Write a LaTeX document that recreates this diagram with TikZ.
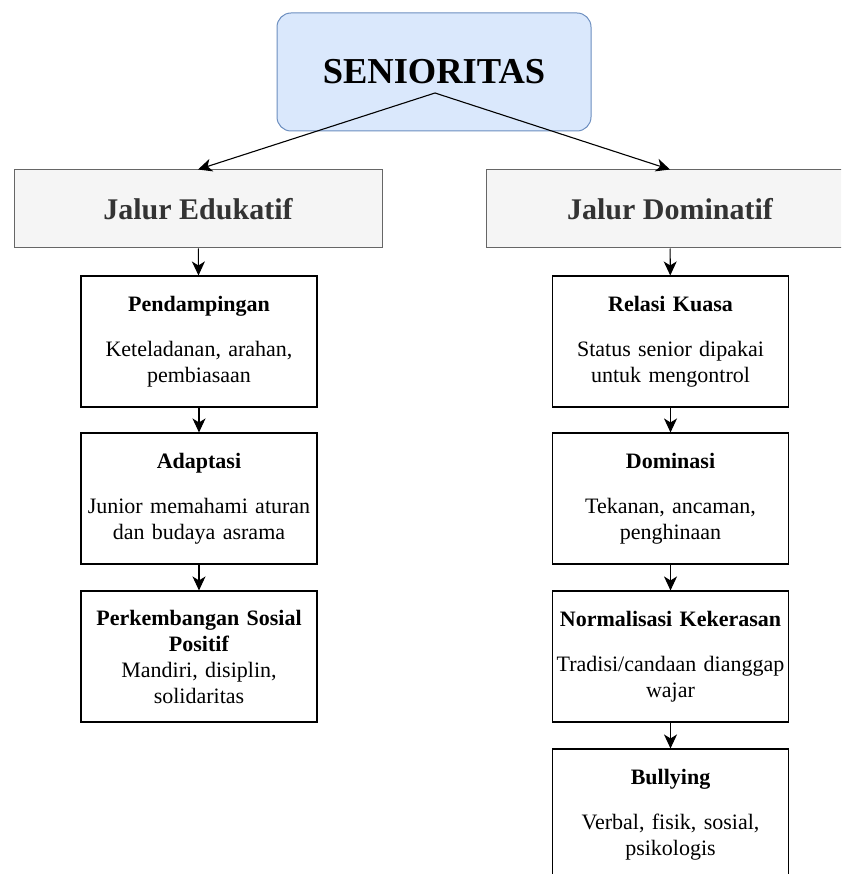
\documentclass[tikz,border=0pt]{standalone}
\usepackage{fontspec}
\setmainfont{Liberation Serif}
\usetikzlibrary{arrows.meta}
\definecolor{senfill}{HTML}{DAE8FC}
\definecolor{senline}{HTML}{6C8EBF}
\definecolor{jalfill}{HTML}{F5F5F5}
\definecolor{jalline}{HTML}{666666}
\definecolor{jaltext}{HTML}{333333}
\tikzset{
	rootbox/.style={draw=senline, fill=senfill, line width=1pt, rounded corners=14pt, minimum width=314pt, minimum height=118pt, font=\fontsize{36.5}{40}\selectfont\bfseries},
	jalurbox/.style={draw=jalline, fill=jalfill, text=jaltext, line width=1pt, minimum width=368pt, minimum height=78pt, font=\fontsize{30}{34}\selectfont\bfseries},
	stepbox/.style={draw, line width=1.1pt, minimum width=236pt, minimum height=131pt, text width=232pt, inner sep=0pt, align=center, font=\fontsize{22}{26}\selectfont},
	arr/.style={-{Stealth[length=14pt,width=13pt,inset=4pt]}, line width=1.1pt},
}
\begin{document}
\begin{tikzpicture}[x=1pt, y=-1pt]
			\clip (0,0) rectangle (841,874);
			\node[rootbox] (senioritas) at (434,72) {SENIORITAS};
			\coordinate (split) at (435,93);

			\node[jalurbox] (edukatif) at (198,209) {Jalur Edukatif};
			\node[jalurbox] (dominatif) at (670,209) {Jalur Dominatif};

			\node[stepbox] (pendampingan) at (199,341.5) {\textbf{Pendampingan}\\[19pt]Keteladanan, arahan,\\pembiasaan};
			\node[stepbox] (adaptasi) at (199,498.5) {\textbf{Adaptasi}\\[19pt]Junior memahami aturan\\dan budaya asrama};
			\node[stepbox] (positif) at (199,656.5) {\textbf{Perkembangan Sosial}\\\textbf{Positif}\\Mandiri, disiplin,\\solidaritas};

			\node[stepbox] (relasi) at (670.5,341.5) {\textbf{Relasi Kuasa}\\[19pt]Status senior dipakai\\untuk mengontrol};
			\node[stepbox] (dominasi) at (670.5,498.5) {\textbf{Dominasi}\\[19pt]Tekanan, ancaman,\\penghinaan};
			\node[stepbox] (normalisasi) at (670.5,656.5) {\textbf{Normalisasi Kekerasan}\\[19pt]Tradisi/candaan dianggap\\wajar};
			\node[stepbox] (bullying) at (670.5,814.5) {\textbf{Bullying}\\[19pt]Verbal, fisik, sosial,\\psikologis};

			\draw[arr] (split) -- (edukatif.north);
			\draw[arr] (split) -- (dominatif.north);

			\draw[arr] (edukatif) -- (pendampingan);
			\draw[arr] (pendampingan) -- (adaptasi);
			\draw[arr] (adaptasi) -- (positif);

			\draw[arr] (dominatif) -- (relasi);
			\draw[arr] (relasi) -- (dominasi);
			\draw[arr] (dominasi) -- (normalisasi);
			\draw[arr] (normalisasi) -- (bullying);

		\end{tikzpicture}
\end{document}
